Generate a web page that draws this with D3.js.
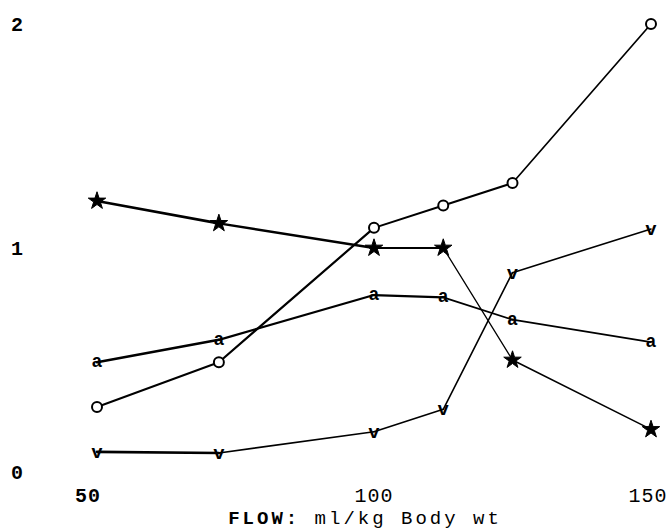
<!DOCTYPE html>
<html>
<head>
<meta charset="utf-8">
<script src="https://cdn.jsdelivr.net/npm/d3@7"></script>
<style>
body { margin: 0; background: #fff; }
text { font-family: "Liberation Mono", "DejaVu Sans Mono", monospace; fill: #000; }
</style>
</head>
<body>
<div id="chart"></div>
<script>
// data
var flow = [50, 72, 100, 112.5, 125, 150]
var circleVals = [0.29, 0.49, 1.09, 1.19, 1.29, 2.0]
var starVals = [1.21, 1.11, 1.0, 1.0, 0.5, 0.19]
var aVals = [0.49, 0.59, 0.79, 0.78, 0.68, 0.58]
var vVals = [0.09, 0.085, 0.18, 0.28, 0.89, 1.085]
var xTicks = [50, 100, 150]
var yTicks = [0, 1, 2]

var width = 671, height = 532

var svg = d3.select("#chart").append("svg")
    .attr("width", width)
    .attr("height", height)

var x = d3.scaleLinear().domain([50, 150]).range([97, 651])
var y = d3.scaleLinear().domain([0, 2]).range([472, 24])

// pen weight per segment (hand drawn, uneven)
var series = [
  {vals: circleVals, w: [2, 2.2, 2, 2, 1.7]},
  {vals: starVals, w: [2.6, 2.4, 2.2, 1.3, 1.5]},
  {vals: aVals, w: [2.6, 2.2, 2.2, 1.8, 1.8]},
  {vals: vVals, w: [2.6, 1.6, 1.6, 1.6, 1.6]}
]

// lines, drawn segment by segment
series.forEach(function(s){
  var pts = d3.zip(flow, s.vals)
  svg.append("g").selectAll("line")
    .data(d3.pairs(pts))
    .enter().append("line")
    .attr("x1", d => x(d[0][0]))
    .attr("y1", d => y(d[0][1]))
    .attr("x2", d => x(d[1][0]))
    .attr("y2", d => y(d[1][1]))
    .attr("stroke", "#000")
    .attr("stroke-linecap", "round")
    .attr("stroke-width", (d, i) => s.w[i])
})

// markers
svg.append("g").selectAll("circle")
    .data(d3.zip(flow, circleVals))
    .enter().append("circle")
    .attr("cx", d => x(d[0]))
    .attr("cy", d => y(d[1]))
    .attr("r", 5)
    .attr("fill", "#fff")
    .attr("stroke", "#000")
    .attr("stroke-width", 2)

svg.append("g").selectAll("path")
    .data(d3.zip(flow, starVals))
    .enter().append("path")
    .attr("d", d3.symbol().type(d3.symbolStar).size(95))
    .attr("transform", d => "translate(" + x(d[0]) + "," + y(d[1]) + ")")
    .attr("fill", "#000")
    .attr("stroke", "#000")
    .attr("stroke-width", 1)

svg.append("g").selectAll("text")
    .data(d3.zip(flow, aVals))
    .enter().append("text")
    .attr("x", d => x(d[0]))
    .attr("y", d => y(d[1]) + 5)
    .attr("text-anchor", "middle")
    .style("font-size", "18px")
    .style("font-weight", "bold")
    .text("a")

svg.append("g").selectAll("text")
    .data(d3.zip(flow, vVals))
    .enter().append("text")
    .attr("x", d => x(d[0]))
    .attr("y", d => y(d[1]) + 6)
    .attr("text-anchor", "middle")
    .style("font-size", "19px")
    .style("font-weight", "bold")
    .text("v")

// axis labels (no axis lines in the original)
svg.append("g").selectAll("text")
    .data(yTicks)
    .enter().append("text")
    .attr("x", 17)
    .attr("y", d => y(d) + 7)
    .attr("text-anchor", "middle")
    .style("font-size", "20px")
    .style("font-weight", "bold")
    .text(d => d)

svg.append("g").selectAll("text")
    .data(xTicks)
    .enter().append("text")
    .attr("x", (d, i) => x(d) + [-9, 0, -3][i])
    .attr("y", 502)
    .attr("text-anchor", "middle")
    .style("font-size", "20px")
    .style("font-weight", (d, i) => i == 0 ? "bold" : "normal")
    .style("letter-spacing", "1px")
    .text(d => d)

svg.append("text")
    .attr("x", 365)
    .attr("y", 524)
    .attr("text-anchor", "middle")
    .style("font-size", "19px")
    .style("letter-spacing", "3px")
    .html("<tspan font-weight='bold'>FLOW:</tspan> ml/kg Body wt")
</script>
</body>
</html>
